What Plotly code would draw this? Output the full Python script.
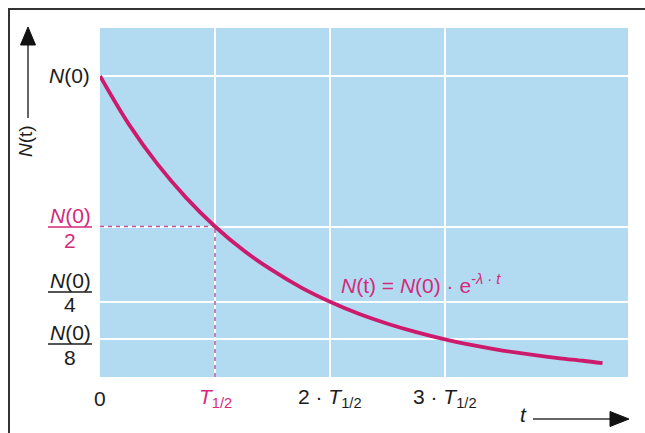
import plotly.graph_objects as go

# ---- data (t in units of T1/2, N in units of N(0)) ----
t_vals = [0.0, 0.25, 0.5, 0.75, 1.0, 1.25, 1.5, 1.75, 2.0, 2.25, 2.5, 2.75,
          3.0, 3.25, 3.5, 3.75, 4.0, 4.2, 4.37]
n_vals = [1.0, 0.84, 0.707, 0.595, 0.5, 0.42, 0.354, 0.297, 0.25, 0.21, 0.177,
          0.149, 0.125, 0.105, 0.088, 0.074, 0.062, 0.054, 0.046]

x_tick_vals = [0, 1, 2, 3]
x_tick_text = ["0", "<i>T</i><sub>1/2</sub>", "2 · <i>T</i><sub>1/2</sub>", "3 · <i>T</i><sub>1/2</sub>"]
y_tick_vals = [1.0, 0.5, 0.25, 0.125]
y_tick_denoms = [None, "2", "4", "8"]

half_t = 1.0
half_n = 0.5

MAGENTA = "#cc1b6c"
LABEL_MAG = "#d42a7c"
DASH_COL = "#b8549a"
BLUE = "#b2dbf2"
FONT = "Liberation Sans, Arial, sans-serif"

REF_L, REF_R, REF_T, REF_B = 100, 628, 28, 377   # plot area in page pixels
W, H = 645, 433
L, T = REF_L, REF_T
R = W - REF_R
B = H - REF_B
PW, PH = REF_R - REF_L, REF_B - REF_T


def px(x):
    return (x - REF_L) / PW


def py(y):
    return (REF_B - y) / PH


fig = go.Figure()

# dashed helper lines
fig.add_trace(go.Scatter(x=[0, half_t], y=[half_n, half_n], mode="lines",
                         line=dict(color=DASH_COL, width=1.5, dash="4px,4px"),
                         hoverinfo="skip", showlegend=False))
fig.add_trace(go.Scatter(x=[half_t, half_t], y=[0, half_n], mode="lines",
                         line=dict(color=DASH_COL, width=1.5, dash="4px,4px"),
                         hoverinfo="skip", showlegend=False))

# decay curve
fig.add_trace(go.Scatter(x=t_vals, y=n_vals, mode="lines",
                         line=dict(color=MAGENTA, width=3.8, shape="spline"),
                         showlegend=False))

annotations = []
shapes = []
FS = 21
DARK = "#1c1c1c"

# x tick labels
for v, txt in zip(x_tick_vals, x_tick_text):
    col = LABEL_MAG if v == 1 else DARK
    annotations.append(dict(x=v, xref="x", y=py(398), yref="paper", text=txt,
                            showarrow=False, xanchor="center", yanchor="middle",
                            font=dict(size=FS, color=col, family=FONT)))

# y tick labels
label_pix = {1.0: (76, None, None), 0.5: (215, 227, 240), 0.25: (280, 292, 304), 0.125: (332, 344, 357)}
for v, d in zip(y_tick_vals, y_tick_denoms):
    col = LABEL_MAG if v == 0.5 else DARK
    num_y, bar_y, den_y = label_pix[v]
    if d is None:
        annotations.append(dict(x=px(92), xref="paper", y=py(num_y), yref="paper",
                                text="<i>N</i>(0)", showarrow=False, xanchor="right",
                                yanchor="middle", font=dict(size=FS, color=col, family=FONT)))
    else:
        annotations.append(dict(x=px(70), xref="paper", y=py(num_y), yref="paper",
                                text="<i>N</i>(0)", showarrow=False, xanchor="center",
                                yanchor="middle", font=dict(size=FS, color=col, family=FONT)))
        annotations.append(dict(x=px(70), xref="paper", y=py(den_y), yref="paper",
                                text=d, showarrow=False, xanchor="center",
                                yanchor="middle", font=dict(size=FS, color=col, family=FONT)))
        shapes.append(dict(type="line", xref="paper", yref="paper",
                           x0=px(48), x1=px(92), y0=py(bar_y), y1=py(bar_y),
                           line=dict(color=col, width=1.5)))

# formula
annotations.append(dict(x=px(339), xref="paper", y=py(284), yref="paper",
                        text="<i>N</i>(t) = <i>N</i>(0) · e<sup>-<i>λ</i> · <i>t</i></sup>",
                        showarrow=False, xanchor="left", yanchor="middle",
                        font=dict(size=21, color=LABEL_MAG, family=FONT)))

# axis titles
annotations.append(dict(x=px(25), xref="paper", y=py(141), yref="paper",
                        text="<i>N</i>(t)", textangle=-90, showarrow=False,
                        xanchor="center", yanchor="middle",
                        font=dict(size=19, color=DARK, family=FONT)))
annotations.append(dict(x=px(523), xref="paper", y=py(414), yref="paper",
                        text="<i>t</i>", showarrow=False,
                        xanchor="center", yanchor="middle",
                        font=dict(size=FS, color=DARK, family=FONT)))

# arrows
shapes.append(dict(type="line", xref="paper", yref="paper", x0=px(28), x1=px(28),
                   y0=py(44), y1=py(118), line=dict(color="#333333", width=1.5)))
shapes.append(dict(type="path", xref="paper", yref="paper",
                   path=f"M {px(28)} {py(27)} L {px(20.5)} {py(45)} L {px(35.5)} {py(45)} Z",
                   fillcolor="#111111", line=dict(color="#111111", width=1)))
shapes.append(dict(type="line", xref="paper", yref="paper", x0=px(533), x1=px(612),
                   y0=py(419), y1=py(419), line=dict(color="#333333", width=1.5)))
shapes.append(dict(type="path", xref="paper", yref="paper",
                   path=f"M {px(629)} {py(419)} L {px(610)} {py(411.5)} L {px(610)} {py(426.5)} Z",
                   fillcolor="#111111", line=dict(color="#111111", width=1)))

# page frame (top and left rules)
shapes.append(dict(type="line", xref="paper", yref="paper", x0=px(8), x1=px(645),
                   y0=py(9), y1=py(9), line=dict(color="#333333", width=2)))
shapes.append(dict(type="line", xref="paper", yref="paper", x0=px(9), x1=px(9),
                   y0=py(9), y1=py(433), line=dict(color="#333333", width=2)))

fig.update_layout(
    width=W, height=H,
    margin=dict(l=L, r=R, t=T, b=B),
    paper_bgcolor="white",
    plot_bgcolor=BLUE,
    annotations=annotations,
    shapes=shapes,
    showlegend=False,
    xaxis=dict(range=[0, PW / 115.0], tickvals=[1, 2, 3], showticklabels=False,
               showgrid=True, gridcolor="white", gridwidth=2, zeroline=False,
               showline=False, ticks="", fixedrange=True),
    yaxis=dict(range=[0, PH / 301.0], tickvals=y_tick_vals, showticklabels=False,
               showgrid=True, gridcolor="white", gridwidth=2, zeroline=False,
               showline=False, ticks="", fixedrange=True),
)

fig.write_html(
    "out.html",
    config={"displayModeBar": False},
    post_script="document.body.style.margin='0';"
                "document.documentElement.style.overflow='hidden';"
                "document.body.style.overflow='hidden';",
)
